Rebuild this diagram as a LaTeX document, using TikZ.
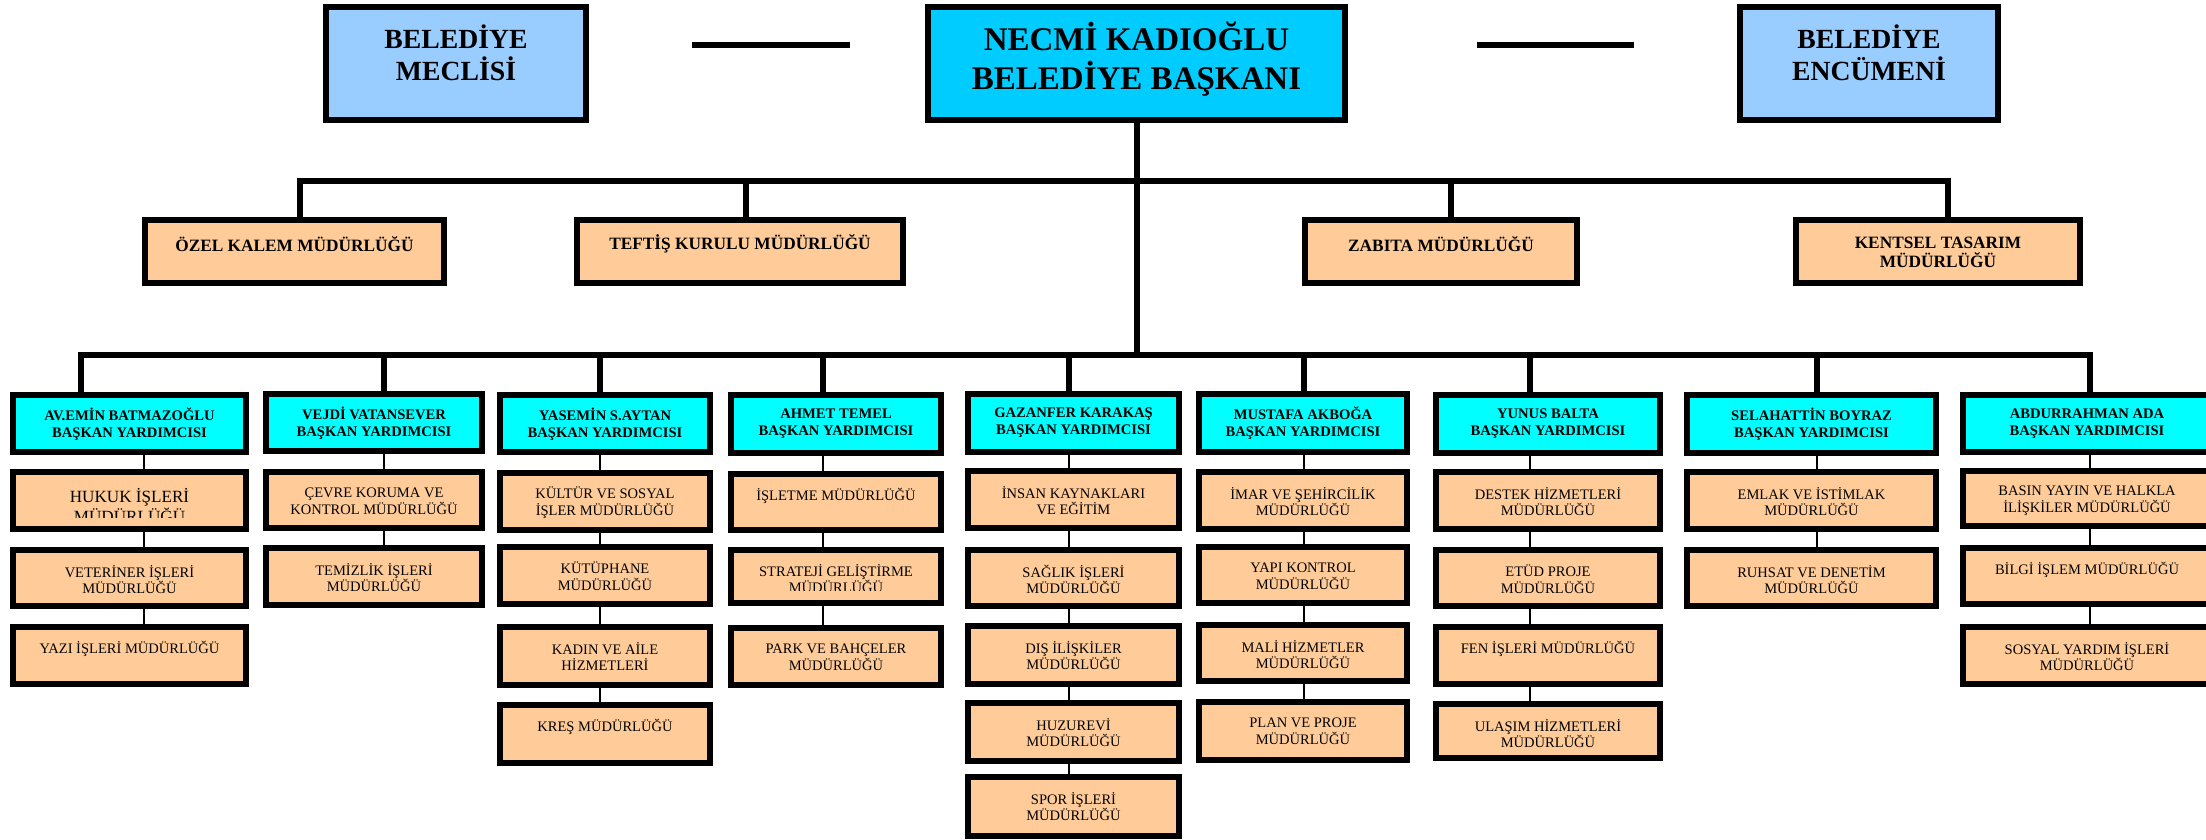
\documentclass[tikz,border=0pt]{standalone}
\usepackage{fontspec}
\setmainfont{Liberation Serif}
\definecolor{meclisC}{HTML}{99CCFF}
\definecolor{necmiC}{HTML}{00CCFF}
\definecolor{byC}{HTML}{00FFFF}
\definecolor{subC}{HTML}{FFCC99}
\tikzset{
  x=0.01cm, y=-0.01cm,
  boxbase/.style={draw=black, line width=0.06cm, inner sep=0pt, outer sep=0pt},
  bluebox/.style={boxbase, fill=meclisC},
  necmibox/.style={boxbase, fill=necmiC},
  bybox/.style={boxbase, fill=byC},
  subbox/.style={boxbase, fill=subC},
  ttop/.style={font=\fontsize{7.88}{9.1}\selectfont\bfseries, align=center, inner sep=0pt},
  tnecmi/.style={font=\fontsize{9.39}{11.1}\selectfont\bfseries, align=center, inner sep=0pt},
  tlone/.style={font=\fontsize{4.92}{5.4}\selectfont\bfseries, align=center, inner sep=0pt},
  tby/.style={font=\fontsize{4.15}{4.84}\selectfont\bfseries, align=center, inner sep=0pt},
  tsub/.style={font=\fontsize{4.13}{4.75}\selectfont, align=center, inner sep=0pt},
  thuk/.style={font=\fontsize{4.87}{5.69}\selectfont, align=center, inner sep=0pt},
  busline/.style={draw=black, line width=0.055cm},
  thinline/.style={draw=black, line width=0.02cm},
}
% name, x1, y1, x2, y2, style
\newcommand\orgrect[6]{%
  \node[#6, minimum width={(#4-#2-6)*0.01cm}, minimum height={(#5-#3-6)*0.01cm}] (#1) at ({(#2+#4)/2},{(#3+#5)/2}) {};}
% name, x1, y1, x2, y2, boxstyle, textstyle, text-centre y, text
\newcommand\orgbox[9]{%
  \orgrect{#1}{#2}{#3}{#4}{#5}{#6}%
  \node[#7] (#1t) at (#1.center |- 0,#8) {#9};}
\begin{document}
\begin{tikzpicture}
\useasboundingbox (0,0) rectangle (2206,839);

% ---------- top row ----------
\orgbox{meclis}{323}{4}{589}{123}{bluebox}{ttop}{53}{BELEDİYE\\MECLİSİ}
\orgbox{necmi}{925}{4}{1348}{123}{necmibox}{tnecmi}{59.5}{NECMİ KADIOĞLU\\BELEDİYE BAŞKANI}
\orgbox{encumen}{1737}{4}{2001}{123}{bluebox}{ttop}{53}{BELEDİYE\\ENCÜMENİ}
\coordinate (l1a) at (692,45); \coordinate (l1b) at (850,45);
\coordinate (l2a) at (1477,45); \coordinate (l2b) at (1634,45);
\draw[busline] (l1a) -- (l1b);
\draw[busline] (l2a) -- (l2b);

% ---------- first level ----------
\orgbox{ozel}{142}{217}{447}{286}{subbox}{tlone}{244}{ÖZEL KALEM MÜDÜRLÜĞÜ}
\orgbox{teftis}{574}{217}{906}{286}{subbox}{tlone}{244}{TEFTİŞ KURULU MÜDÜRLÜĞÜ}
\orgbox{zabita}{1302}{217}{1580}{286}{subbox}{tlone}{244}{ZABITA MÜDÜRLÜĞÜ}
\orgbox{kentsel}{1793}{217}{2083}{286}{subbox}{tlone}{252.5}{KENTSEL TASARIM\\MÜDÜRLÜĞÜ}

% ---------- deputies ----------
\orgbox{by1}{10}{392}{249}{455}{bybox}{tby}{424}{AV.EMİN BATMAZOĞLU\\BAŞKAN YARDIMCISI}
\orgbox{by2}{263}{391}{485}{454}{bybox}{tby}{423}{VEJDİ VATANSEVER\\BAŞKAN YARDIMCISI}
\orgbox{by3}{497}{392}{713}{455}{bybox}{tby}{424}{YASEMİN S.AYTAN\\BAŞKAN YARDIMCISI}
\orgbox{by4}{728}{392}{944}{456}{bybox}{tby}{424}{AHMET TEMEL\\BAŞKAN YARDIMCISI}
\orgbox{by5}{965}{391}{1182}{455}{bybox}{tby}{423}{GAZANFER KARAKAŞ\\BAŞKAN YARDIMCISI}
\orgbox{by6}{1196}{391}{1410}{455}{bybox}{tby}{423}{MUSTAFA AKBOĞA\\BAŞKAN YARDIMCISI}
\orgbox{by7}{1433}{392}{1663}{456}{bybox}{tby}{424}{YUNUS BALTA\\BAŞKAN YARDIMCISI}
\orgbox{by8}{1684}{392}{1939}{456}{bybox}{tby}{424}{SELAHATTİN BOYRAZ\\BAŞKAN YARDIMCISI}
\orgbox{by9}{1960}{392}{2214}{455}{bybox}{tby}{424}{ABDURRAHMAN ADA\\BAŞKAN YARDIMCISI}

% ---------- column 1 ----------
\orgrect{c1a}{10}{469}{249}{532}{subbox}
\begin{scope}
  \clip (10,469) rectangle (249,517);
  \node[thuk] (c1at) at (c1a.center |- 0,506) {HUKUK İŞLERİ\\MÜDÜRLÜĞÜ};
\end{scope}
\orgbox{c1b}{10}{547}{249}{609}{subbox}{tsub}{579.5}{VETERİNER İŞLERİ\\MÜDÜRLÜĞÜ}
\orgbox{c1c}{10}{624}{249}{687}{subbox}{tsub}{648.5}{YAZI İŞLERİ MÜDÜRLÜĞÜ}

% ---------- column 2 ----------
\orgbox{c2a}{263}{469}{485}{531}{subbox}{tsub}{501.5}{ÇEVRE KORUMA VE\\KONTROL MÜDÜRLÜĞÜ}
\orgbox{c2b}{263}{545}{485}{608}{subbox}{tsub}{577.5}{TEMİZLİK İŞLERİ\\MÜDÜRLÜĞÜ}

% ---------- column 3 ----------
\orgbox{c3a}{497}{470}{713}{533}{subbox}{tsub}{502.5}{KÜLTÜR VE SOSYAL\\İŞLER MÜDÜRLÜĞÜ}
\orgbox{c3b}{497}{544}{713}{607}{subbox}{tsub}{576.5}{KÜTÜPHANE\\MÜDÜRLÜĞÜ}
\orgbox{c3c}{497}{624}{713}{688}{subbox}{tsub}{656.5}{KADIN VE AİLE\\HİZMETLERİ}
\orgbox{c3d}{497}{702}{713}{766}{subbox}{tsub}{726.5}{KREŞ MÜDÜRLÜĞÜ}

% ---------- column 4 ----------
\orgbox{c4a}{728}{471}{944}{533}{subbox}{tsub}{495.5}{İŞLETME MÜDÜRLÜĞÜ}
\orgrect{c4b}{728}{547}{944}{606}{subbox}
\begin{scope}
  \clip (728,547) rectangle (944,590);
  \node[tsub] (c4bt) at (c4b.center |- 0,578.5) {STRATEJİ GELİŞTİRME\\MÜDÜRLÜĞÜ};
\end{scope}
\orgbox{c4c}{728}{625}{944}{688}{subbox}{tsub}{657.5}{PARK VE BAHÇELER\\MÜDÜRLÜĞÜ}

% ---------- column 5 ----------
\orgbox{c5a}{965}{468}{1182}{531}{subbox}{tsub}{500.5}{İNSAN KAYNAKLARI\\VE EĞİTİM}
\orgbox{c5b}{965}{547}{1182}{609}{subbox}{tsub}{579.5}{SAĞLIK İŞLERİ\\MÜDÜRLÜĞÜ}
\orgbox{c5c}{965}{623}{1182}{687}{subbox}{tsub}{655.5}{DIŞ İLİŞKİLER\\MÜDÜRLÜĞÜ}
\orgbox{c5d}{965}{700}{1182}{764}{subbox}{tsub}{732.5}{HUZUREVİ\\MÜDÜRLÜĞÜ}
\orgbox{c5e}{965}{774}{1182}{839}{subbox}{tsub}{806.5}{SPOR İŞLERİ\\MÜDÜRLÜĞÜ}

% ---------- column 6 ----------
\orgbox{c6a}{1196}{469}{1410}{532}{subbox}{tsub}{501.5}{İMAR VE ŞEHİRCİLİK\\MÜDÜRLÜĞÜ}
\orgbox{c6b}{1196}{544}{1410}{606}{subbox}{tsub}{576.5}{YAPI KONTROL\\MÜDÜRLÜĞÜ}
\orgbox{c6c}{1196}{622}{1410}{684}{subbox}{tsub}{654.5}{MALİ HİZMETLER\\MÜDÜRLÜĞÜ}
\orgbox{c6d}{1196}{699}{1410}{763}{subbox}{tsub}{731.5}{PLAN VE PROJE\\MÜDÜRLÜĞÜ}

% ---------- column 7 ----------
\orgbox{c7a}{1433}{469}{1663}{532}{subbox}{tsub}{501.5}{DESTEK HİZMETLERİ\\MÜDÜRLÜĞÜ}
\orgbox{c7b}{1433}{547}{1663}{609}{subbox}{tsub}{579.5}{ETÜD PROJE\\MÜDÜRLÜĞÜ}
\orgbox{c7c}{1433}{624}{1663}{687}{subbox}{tsub}{648.5}{FEN İŞLERİ MÜDÜRLÜĞÜ}
\orgbox{c7d}{1433}{701}{1663}{761}{subbox}{tsub}{733.5}{ULAŞIM HİZMETLERİ\\MÜDÜRLÜĞÜ}

% ---------- column 8 ----------
\orgbox{c8a}{1684}{469}{1939}{532}{subbox}{tsub}{501.5}{EMLAK VE İSTİMLAK\\MÜDÜRLÜĞÜ}
\orgbox{c8b}{1684}{547}{1939}{609}{subbox}{tsub}{579.5}{RUHSAT VE DENETİM\\MÜDÜRLÜĞÜ}

% ---------- column 9 ----------
\orgbox{c9a}{1960}{468}{2214}{529}{subbox}{tsub}{500.5}{BASIN YAYIN VE HALKLA\\İLİŞKİLER MÜDÜRLÜĞÜ}
\orgbox{c9b}{1960}{545}{2214}{607}{subbox}{tsub}{569.5}{BİLGİ İŞLEM MÜDÜRLÜĞÜ}
\orgbox{c9c}{1960}{624}{2214}{687}{subbox}{tsub}{656.5}{SOSYAL YARDIM İŞLERİ\\MÜDÜRLÜĞÜ}

% ---------- upper bus ----------
\coordinate (u1) at (300,181); \coordinate (u2) at (746,181);
\coordinate (u3) at (1451,181); \coordinate (u4) at (1948,181);
\draw[busline] (ozel.north -| u1) -- (u1) -- (u4) -- (kentsel.north -| u4);
\draw[busline] (u2) -- (teftis.north -| u2);
\draw[busline] (u3) -- (zabita.north -| u3);

% ---------- main vertical ----------
\coordinate (vbot) at (1137,355);
\draw[busline] (necmi.south -| vbot) -- (vbot);

% ---------- lower bus ----------
\coordinate (d1) at (81,355);   \coordinate (d2) at (384,355);
\coordinate (d3) at (600,355);  \coordinate (d4) at (823,355);
\coordinate (d5) at (1069,355); \coordinate (d6) at (1304,355);
\coordinate (d7) at (1530,355); \coordinate (d8) at (1817,355);
\coordinate (d9) at (2090,355);
\draw[busline] (by1.north -| d1) -- (d1) -- (d9) -- (by9.north -| d9);
\foreach \i in {2,...,8} {\draw[busline] (d\i) -- (by\i.north -| d\i);}

% ---------- thin connectors ----------
\coordinate (t1) at (144,0);
\draw[thinline] (by1.south -| t1) -- (c1a.north -| t1);
\draw[thinline] (c1a.south -| t1) -- (c1b.north -| t1);
\draw[thinline] (c1b.south -| t1) -- (c1c.north -| t1);
\draw[thinline] (by2.south -| d2) -- (c2a.north -| d2);
\draw[thinline] (c2a.south -| d2) -- (c2b.north -| d2);
\draw[thinline] (by3.south -| d3) -- (c3a.north -| d3);
\draw[thinline] (c3a.south -| d3) -- (c3b.north -| d3);
\draw[thinline] (c3b.south -| d3) -- (c3c.north -| d3);
\draw[thinline] (c3c.south -| d3) -- (c3d.north -| d3);
\draw[thinline] (by4.south -| d4) -- (c4a.north -| d4);
\draw[thinline] (c4a.south -| d4) -- (c4b.north -| d4);
\draw[thinline] (c4b.south -| d4) -- (c4c.north -| d4);
\draw[thinline] (by5.south -| d5) -- (c5a.north -| d5);
\draw[thinline] (c5a.south -| d5) -- (c5b.north -| d5);
\draw[thinline] (c5b.south -| d5) -- (c5c.north -| d5);
\draw[thinline] (c5c.south -| d5) -- (c5d.north -| d5);
\draw[thinline] (c5d.south -| d5) -- (c5e.north -| d5);
\draw[thinline] (by6.south -| d6) -- (c6a.north -| d6);
\draw[thinline] (c6a.south -| d6) -- (c6b.north -| d6);
\draw[thinline] (c6b.south -| d6) -- (c6c.north -| d6);
\draw[thinline] (c6c.south -| d6) -- (c6d.north -| d6);
\draw[thinline] (by7.south -| d7) -- (c7a.north -| d7);
\draw[thinline] (c7a.south -| d7) -- (c7b.north -| d7);
\draw[thinline] (c7b.south -| d7) -- (c7c.north -| d7);
\draw[thinline] (c7c.south -| d7) -- (c7d.north -| d7);
\draw[thinline] (by8.south -| d8) -- (c8a.north -| d8);
\draw[thinline] (c8a.south -| d8) -- (c8b.north -| d8);
\draw[thinline] (by9.south -| d9) -- (c9a.north -| d9);
\draw[thinline] (c9a.south -| d9) -- (c9b.north -| d9);
\draw[thinline] (c9b.south -| d9) -- (c9c.north -| d9);
\end{tikzpicture}
\end{document}
